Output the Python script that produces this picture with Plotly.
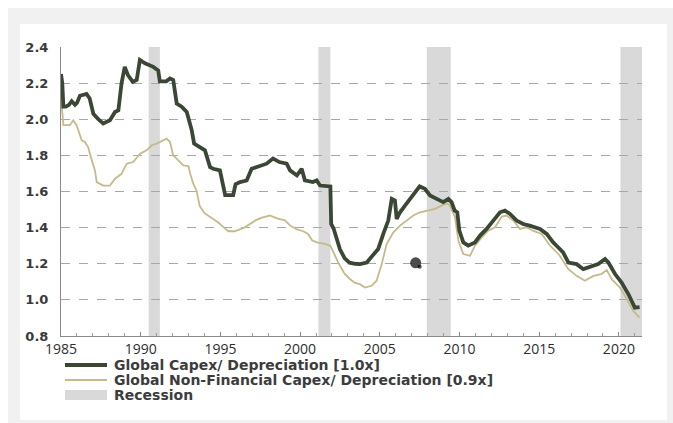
import plotly.graph_objects as go

# Global Capex / Depreciation ratio (dark) – decimal year, ratio
capex_years = [1985.0, 1985.08, 1985.15, 1985.3, 1985.5, 1985.67, 1985.88, 1986.0, 1986.19, 1986.6,
               1986.8, 1987.03, 1987.34, 1987.65, 1988.07, 1988.39, 1988.6, 1988.8, 1989.0, 1989.2,
               1989.5, 1989.75, 1989.95, 1990.27, 1990.79, 1991.1, 1991.2, 1991.6, 1991.84, 1992.04,
               1992.26, 1992.57, 1992.89, 1993.05, 1993.2, 1993.35, 1993.72, 1994.03, 1994.35, 1994.55,
               1994.97, 1995.18, 1995.3, 1995.8, 1995.95, 1996.23, 1996.65, 1996.96, 1997.5, 1997.9,
               1998.3, 1998.7, 1999.16, 1999.37, 1999.8, 2000.1, 2000.3, 2000.8, 2001.04, 2001.25,
               2001.9, 2001.95, 2002.1, 2002.3, 2002.5, 2002.8, 2003.1, 2003.45, 2003.76, 2004.18,
               2004.6, 2004.9, 2005.22, 2005.53, 2005.75, 2005.95, 2006.06, 2006.27, 2006.58, 2006.9,
               2007.2, 2007.5, 2007.83, 2008.15, 2008.57, 2008.98, 2009.3, 2009.5, 2009.7, 2009.86,
               2009.99, 2010.24, 2010.55, 2010.97, 2011.29, 2011.7, 2012.12, 2012.54, 2012.85, 2013.17,
               2013.59, 2014.0, 2014.4, 2014.84, 2015.05, 2015.47, 2015.88, 2016.2, 2016.5, 2016.83,
               2017.35, 2017.77, 2018.19, 2018.7, 2019.13, 2019.34, 2019.76, 2020.17, 2020.6, 2021.0,
               2021.3]
capex_ratio = [2.25, 2.20, 2.07, 2.07, 2.08, 2.10, 2.08, 2.09, 2.13, 2.14,
               2.115, 2.03, 2.00, 1.976, 1.994, 2.04, 2.05, 2.20, 2.29, 2.244,
               2.207, 2.217, 2.328, 2.31, 2.29, 2.27, 2.21, 2.21, 2.226, 2.217,
               2.087, 2.07, 2.04, 1.99, 1.94, 1.865, 1.846, 1.828, 1.735, 1.726,
               1.717, 1.624, 1.58, 1.58, 1.64, 1.652, 1.661, 1.726, 1.739, 1.754,
               1.782, 1.763, 1.754, 1.717, 1.689, 1.726, 1.661, 1.652, 1.661, 1.633,
               1.628, 1.42, 1.395, 1.33, 1.28, 1.23, 1.206, 1.20, 1.198, 1.207,
               1.254, 1.282, 1.365, 1.439, 1.559, 1.55, 1.448, 1.485, 1.522, 1.559,
               1.596, 1.628, 1.615, 1.578, 1.559, 1.541, 1.559, 1.541, 1.494, 1.485,
               1.383, 1.318, 1.30, 1.318, 1.356, 1.393, 1.439, 1.485, 1.494, 1.476,
               1.439, 1.42, 1.411, 1.402, 1.393, 1.365, 1.318, 1.29, 1.263, 1.207,
               1.198, 1.17, 1.183, 1.198, 1.226, 1.207, 1.143, 1.096, 1.031, 0.957,
               0.96]

# Global Non-Financial Capex / Depreciation ratio (light)
nonfin_years = [1985.0, 1985.15, 1985.56, 1985.77, 1985.98, 1986.3, 1986.5, 1986.7, 1986.9, 1987.13,
                1987.24, 1987.65, 1988.07, 1988.39, 1988.8, 1989.12, 1989.53, 1989.96, 1990.37, 1990.69,
                1991.0, 1991.42, 1991.63, 1991.84, 1992.04, 1992.36, 1992.67, 1993.0, 1993.1, 1993.3,
                1993.5, 1993.7, 1994.0, 1994.5, 1994.85, 1995.1, 1995.5, 1995.9, 1996.2, 1996.5,
                1997.2, 1997.6, 1998.1, 1998.6, 1999.05, 1999.4, 1999.8, 2000.2, 2000.5, 2000.75,
                2001.1, 2001.55, 2001.9, 2002.05, 2002.4, 2002.8, 2003.1, 2003.45, 2003.76, 2004.07,
                2004.49, 2004.8, 2005.12, 2005.43, 2005.85, 2006.27, 2006.69, 2007.1, 2007.52, 2007.94,
                2008.46, 2008.88, 2009.2, 2009.4, 2009.72, 2009.93, 2010.24, 2010.66, 2010.97, 2011.4,
                2011.8, 2012.23, 2012.65, 2012.96, 2013.38, 2013.8, 2014.2, 2014.6, 2015.16, 2015.68,
                2016.25, 2016.83, 2017.35, 2017.87, 2018.4, 2018.9, 2019.24, 2019.55, 2020.07, 2020.5,
                2020.9, 2021.3]
nonfin_ratio = [2.13, 1.967, 1.967, 1.994, 1.967, 1.883, 1.874, 1.846, 1.782, 1.717,
                1.652, 1.633, 1.633, 1.671, 1.698, 1.754, 1.763, 1.809, 1.828, 1.856,
                1.865, 1.883, 1.893, 1.874, 1.80, 1.772, 1.744, 1.74, 1.70, 1.643,
                1.606, 1.52, 1.48, 1.45, 1.43, 1.41, 1.38, 1.38, 1.39, 1.40,
                1.44, 1.455, 1.467, 1.45, 1.44, 1.41, 1.39, 1.38, 1.365, 1.33,
                1.317, 1.31, 1.30, 1.27, 1.205, 1.144, 1.117, 1.094, 1.087, 1.068,
                1.078, 1.106, 1.198, 1.309, 1.374, 1.411, 1.439, 1.467, 1.485, 1.494,
                1.504, 1.522, 1.535, 1.522, 1.457, 1.328, 1.254, 1.244, 1.30, 1.346,
                1.383, 1.402, 1.461, 1.467, 1.439, 1.393, 1.402, 1.383, 1.365, 1.30,
                1.25, 1.17, 1.133, 1.106, 1.133, 1.143, 1.165, 1.115, 1.068, 1.004,
                0.939, 0.902]

# Recession periods (start, end) in decimal years
recession_start = [1990.5, 2001.15, 2007.95, 2020.1]
recession_end = [1991.2, 2001.9, 2009.45, 2021.45]

# Stray mark near 2007
blob_x = [2007.25, 2007.5]
blob_y = [1.205, 1.183]

series_names = ["Global Capex/ Depreciation [1.0x]",
                "Global Non-Financial Capex/ Depreciation [0.9x]",
                "Recession"]
x_ticks = [1985, 1990, 1995, 2000, 2005, 2010, 2015, 2020]
y_ticks = [0.8, 1.0, 1.2, 1.4, 1.6, 1.8, 2.0, 2.2, 2.4]

DARK = "#3a4735"
LIGHT = "#c6b98a"
SHADE = "#d9d9d9"

W, H = 673, 423
ML, MR, MT, MB = 61, 31, 47, 87
PW, PH = W - ML - MR, H - MT - MB


def px(x):
    return (x - ML) / PW


def py(y):
    return (H - MB - y) / PH


fig = go.Figure()

fig.add_trace(go.Scatter(x=nonfin_years, y=nonfin_ratio, mode="lines",
                         line=dict(color=LIGHT, width=1.8), showlegend=False,
                         name=series_names[1], hoverinfo="skip"))
fig.add_trace(go.Scatter(x=capex_years, y=capex_ratio, mode="lines",
                         line=dict(color=DARK, width=3.8), showlegend=False,
                         name=series_names[0], hoverinfo="skip"))
fig.add_trace(go.Scatter(x=blob_x, y=blob_y, mode="markers",
                         marker=dict(color="#000000", size=[11, 4], line=dict(width=0)),
                         showlegend=False, hoverinfo="skip"))

shapes = []
# outer grey frame and inner white panel
shapes.append(dict(type="rect", xref="paper", yref="paper", layer="below",
                   x0=px(8), x1=px(W), y0=py(H), y1=py(8),
                   fillcolor="#f1f1f1", line=dict(width=0)))
shapes.append(dict(type="rect", xref="paper", yref="paper", layer="below",
                   x0=px(20), x1=px(667), y0=py(420), y1=py(24),
                   fillcolor="white", line=dict(width=0)))
# recession shading
for s, e in zip(recession_start, recession_end):
    shapes.append(dict(type="rect", xref="x", yref="paper", layer="below",
                       x0=s, x1=e, y0=0, y1=1,
                       fillcolor=SHADE, line=dict(width=0)))

# legend swatches
leg_rows = [365, 380, 395]
shapes.append(dict(type="line", xref="paper", yref="paper",
                   x0=px(65), x1=px(107), y0=py(leg_rows[0]), y1=py(leg_rows[0]),
                   line=dict(color=DARK, width=4)))
shapes.append(dict(type="line", xref="paper", yref="paper",
                   x0=px(65), x1=px(107), y0=py(leg_rows[1]), y1=py(leg_rows[1]),
                   line=dict(color=LIGHT, width=2)))
shapes.append(dict(type="rect", xref="paper", yref="paper",
                   x0=px(65), x1=px(107), y0=py(leg_rows[2] + 5), y1=py(leg_rows[2] - 5),
                   fillcolor=SHADE, line=dict(width=0)))

annotations = []
for row, name in zip(leg_rows, series_names):
    annotations.append(dict(xref="paper", yref="paper", x=px(112), y=py(row),
                            xanchor="left", yanchor="middle", showarrow=False,
                            text=name,
                            font=dict(family="DejaVu Sans", size=14, color="#3c3c3c",
                                      weight="bold")))

fig.update_layout(
    width=W, height=H,
    margin=dict(l=ML, r=MR, t=MT, b=MB, pad=0),
    paper_bgcolor="white",
    plot_bgcolor="rgba(0,0,0,0)",
    shapes=shapes,
    annotations=annotations,
    showlegend=False,
)

fig.update_xaxes(
    range=[1985, 2021.45],
    tickvals=x_ticks,
    ticktext=[str(t) for t in x_ticks],
    tickfont=dict(family="Open Sans", size=14, color="#2e2e2e"),
    showgrid=False, zeroline=False,
    showline=True, linecolor="#8a8a8a", linewidth=1,
    ticks="inside", ticklen=4, tickcolor="#8a8a8a",
    minor=dict(dtick=1, ticks="inside", ticklen=3, tickcolor="#9a9a9a", showgrid=False),
)
fig.update_yaxes(
    range=[0.8, 2.4],
    tickvals=y_ticks,
    ticktext=["%.1f" % t for t in y_ticks],
    tickfont=dict(family="DejaVu Sans", size=13, color="#3a3a3a", weight="bold"),
    showgrid=True, gridcolor="#a8a8a8", gridwidth=1, griddash="dash",
    zeroline=False,
    showline=True, linecolor="#8a8a8a", linewidth=1,
    ticks="", ticklabelstandoff=9,
)

fig.write_html("out.html")
